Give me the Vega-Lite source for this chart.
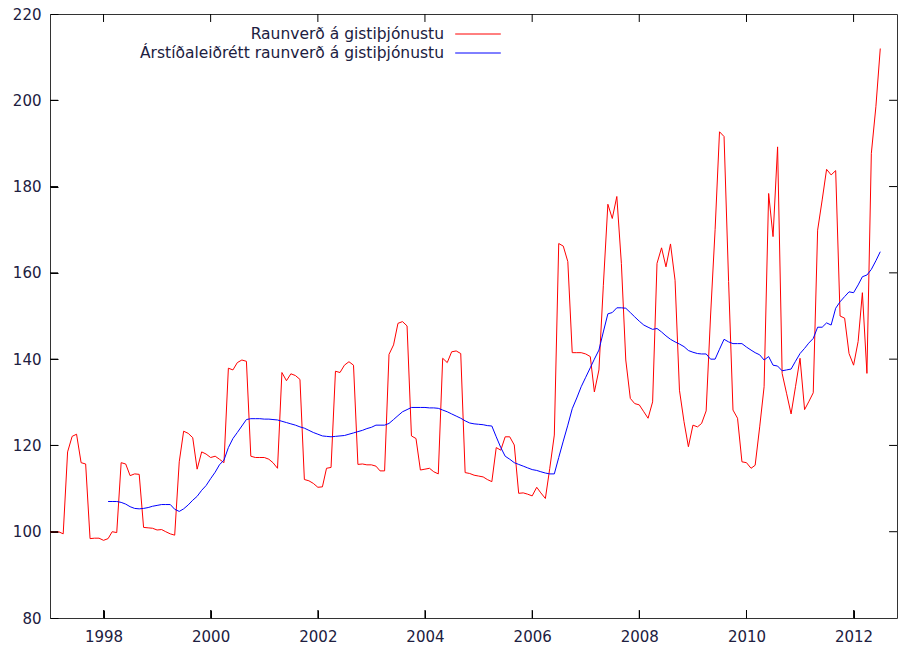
{
  "$schema": "https://vega.github.io/schema/vega-lite/v6.json",
  "width": 847,
  "height": 604,
  "autosize": {"type": "none"},
  "padding": {"left": 50, "top": 14, "right": 1, "bottom": 33},
  "background": "white",
  "config": {
    "view": {"stroke": "#333333", "strokeWidth": 1},
    "font": "DejaVu Sans",
    "axis": {
      "labelFont": "DejaVu Sans",
      "labelFontSize": 15,
      "labelColor": "#202040",
      "ticks": true,
      "tickColor": "#000000",
      "tickSize": -8,
      "tickWidth": 1,
      "domain": false,
      "grid": false,
      "title": null
    },
    "legend": {
      "labelFont": "DejaVu Sans",
      "labelFontSize": 15.5,
      "labelColor": "#202040"
    }
  },
  "datasets": {
    "r": [
      {"d":"1997-01-01","v":100.0},{"d":"1997-02-01","v":100.0},{"d":"1997-03-01","v":100.0},{"d":"1997-04-01","v":99.5},{"d":"1997-05-01","v":118.5},{"d":"1997-06-01","v":122.1},{"d":"1997-07-01","v":122.6},{"d":"1997-08-01","v":116.0},{"d":"1997-09-01","v":115.7},{"d":"1997-10-01","v":98.4},{"d":"1997-11-01","v":98.5},{"d":"1997-12-01","v":98.5},
      {"d":"1998-01-01","v":98.0},{"d":"1998-02-01","v":98.4},{"d":"1998-03-01","v":100.0},{"d":"1998-04-01","v":99.8},{"d":"1998-05-01","v":116.0},{"d":"1998-06-01","v":115.7},{"d":"1998-07-01","v":113.0},{"d":"1998-08-01","v":113.4},{"d":"1998-09-01","v":113.3},{"d":"1998-10-01","v":101.0},{"d":"1998-11-01","v":100.9},{"d":"1998-12-01","v":100.8},
      {"d":"1999-01-01","v":100.4},{"d":"1999-02-01","v":100.5},{"d":"1999-03-01","v":100.0},{"d":"1999-04-01","v":99.5},{"d":"1999-05-01","v":99.2},{"d":"1999-06-01","v":116.2},{"d":"1999-07-01","v":123.3},{"d":"1999-08-01","v":122.8},{"d":"1999-09-01","v":121.8},{"d":"1999-10-01","v":114.5},{"d":"1999-11-01","v":118.5},{"d":"1999-12-01","v":118.0},
      {"d":"2000-01-01","v":117.2},{"d":"2000-02-01","v":117.5},{"d":"2000-03-01","v":116.8},{"d":"2000-04-01","v":116.0},{"d":"2000-05-01","v":137.9},{"d":"2000-06-01","v":137.5},{"d":"2000-07-01","v":139.2},{"d":"2000-08-01","v":139.8},{"d":"2000-09-01","v":139.5},{"d":"2000-10-01","v":117.5},{"d":"2000-11-01","v":117.2},{"d":"2000-12-01","v":117.2},
      {"d":"2001-01-01","v":117.2},{"d":"2001-02-01","v":116.8},{"d":"2001-03-01","v":116.0},{"d":"2001-04-01","v":114.7},{"d":"2001-05-01","v":136.9},{"d":"2001-06-01","v":135.0},{"d":"2001-07-01","v":136.6},{"d":"2001-08-01","v":136.2},{"d":"2001-09-01","v":135.3},{"d":"2001-10-01","v":112.1},{"d":"2001-11-01","v":111.8},{"d":"2001-12-01","v":111.2},
      {"d":"2002-01-01","v":110.3},{"d":"2002-02-01","v":110.4},{"d":"2002-03-01","v":114.7},{"d":"2002-04-01","v":114.9},{"d":"2002-05-01","v":137.2},{"d":"2002-06-01","v":136.9},{"d":"2002-07-01","v":138.6},{"d":"2002-08-01","v":139.4},{"d":"2002-09-01","v":138.6},{"d":"2002-10-01","v":115.6},{"d":"2002-11-01","v":115.7},{"d":"2002-12-01","v":115.5},
      {"d":"2003-01-01","v":115.5},{"d":"2003-02-01","v":115.2},{"d":"2003-03-01","v":114.1},{"d":"2003-04-01","v":114.1},{"d":"2003-05-01","v":141.1},{"d":"2003-06-01","v":143.3},{"d":"2003-07-01","v":148.3},{"d":"2003-08-01","v":148.7},{"d":"2003-09-01","v":147.7},{"d":"2003-10-01","v":122.2},{"d":"2003-11-01","v":121.6},{"d":"2003-12-01","v":114.3},
      {"d":"2004-01-01","v":114.5},{"d":"2004-02-01","v":114.7},{"d":"2004-03-01","v":113.9},{"d":"2004-04-01","v":113.4},{"d":"2004-05-01","v":140.2},{"d":"2004-06-01","v":139.2},{"d":"2004-07-01","v":141.7},{"d":"2004-08-01","v":141.9},{"d":"2004-09-01","v":141.3},{"d":"2004-10-01","v":113.7},{"d":"2004-11-01","v":113.5},{"d":"2004-12-01","v":113.1},
      {"d":"2005-01-01","v":112.9},{"d":"2005-02-01","v":112.7},{"d":"2005-03-01","v":112.1},{"d":"2005-04-01","v":111.6},{"d":"2005-05-01","v":119.5},{"d":"2005-06-01","v":118.9},{"d":"2005-07-01","v":122.0},{"d":"2005-08-01","v":122.0},{"d":"2005-09-01","v":120.1},{"d":"2005-10-01","v":108.9},{"d":"2005-11-01","v":109.0},{"d":"2005-12-01","v":108.7},
      {"d":"2006-01-01","v":108.3},{"d":"2006-02-01","v":110.3},{"d":"2006-03-01","v":109.0},{"d":"2006-04-01","v":107.7},{"d":"2006-05-01","v":114.7},{"d":"2006-06-01","v":122.4},{"d":"2006-07-01","v":166.8},{"d":"2006-08-01","v":166.2},{"d":"2006-09-01","v":162.6},{"d":"2006-10-01","v":141.5},{"d":"2006-11-01","v":141.5},{"d":"2006-12-01","v":141.5},
      {"d":"2007-01-01","v":141.2},{"d":"2007-02-01","v":140.6},{"d":"2007-03-01","v":132.4},{"d":"2007-04-01","v":137.5},{"d":"2007-05-01","v":157.0},{"d":"2007-06-01","v":175.9},{"d":"2007-07-01","v":172.6},{"d":"2007-08-01","v":177.7},{"d":"2007-09-01","v":162.2},{"d":"2007-10-01","v":139.8},{"d":"2007-11-01","v":130.9},{"d":"2007-12-01","v":129.7},
      {"d":"2008-01-01","v":129.4},{"d":"2008-02-01","v":127.8},{"d":"2008-03-01","v":126.3},{"d":"2008-04-01","v":130.1},{"d":"2008-05-01","v":162.2},{"d":"2008-06-01","v":165.8},{"d":"2008-07-01","v":161.4},{"d":"2008-08-01","v":166.7},{"d":"2008-09-01","v":158.3},{"d":"2008-10-01","v":132.8},{"d":"2008-11-01","v":125.5},{"d":"2008-12-01","v":119.7},
      {"d":"2009-01-01","v":124.7},{"d":"2009-02-01","v":124.3},{"d":"2009-03-01","v":125.1},{"d":"2009-04-01","v":128.0},{"d":"2009-05-01","v":150.0},{"d":"2009-06-01","v":170.0},{"d":"2009-07-01","v":192.7},{"d":"2009-08-01","v":191.6},{"d":"2009-09-01","v":158.0},{"d":"2009-10-01","v":128.2},{"d":"2009-11-01","v":126.3},{"d":"2009-12-01","v":116.2},
      {"d":"2010-01-01","v":116.0},{"d":"2010-02-01","v":114.7},{"d":"2010-03-01","v":115.4},{"d":"2010-04-01","v":124.3},{"d":"2010-05-01","v":133.6},{"d":"2010-06-01","v":178.4},{"d":"2010-07-01","v":168.4},{"d":"2010-08-01","v":189.2},{"d":"2010-09-01","v":136.7},{"d":"2010-10-01","v":132.1},{"d":"2010-11-01","v":127.3},{"d":"2010-12-01","v":133.6},
      {"d":"2011-01-01","v":140.2},{"d":"2011-02-01","v":128.3},{"d":"2011-03-01","v":130.1},{"d":"2011-04-01","v":132.2},{"d":"2011-05-01","v":169.9},{"d":"2011-06-01","v":176.9},{"d":"2011-07-01","v":184.0},{"d":"2011-08-01","v":182.7},{"d":"2011-09-01","v":183.7},{"d":"2011-10-01","v":150.0},{"d":"2011-11-01","v":149.5},{"d":"2011-12-01","v":141.3},
      {"d":"2012-01-01","v":138.6},{"d":"2012-02-01","v":144.1},{"d":"2012-03-01","v":155.4},{"d":"2012-04-01","v":136.7},{"d":"2012-05-01","v":187.7},{"d":"2012-06-01","v":198.5},{"d":"2012-07-01","v":212.0}
    ],
    "b": [
      {"d":"1998-02-01","v":107.0},{"d":"1998-03-01","v":107.0},{"d":"1998-04-01","v":107.0},{"d":"1998-05-01","v":106.8},{"d":"1998-06-01","v":106.4},{"d":"1998-07-01","v":105.8},{"d":"1998-08-01","v":105.4},{"d":"1998-09-01","v":105.3},{"d":"1998-10-01","v":105.4},{"d":"1998-11-01","v":105.6},{"d":"1998-12-01","v":105.9},
      {"d":"1999-01-01","v":106.1},{"d":"1999-02-01","v":106.3},{"d":"1999-03-01","v":106.3},{"d":"1999-04-01","v":106.3},{"d":"1999-05-01","v":105.2},{"d":"1999-06-01","v":104.7},{"d":"1999-07-01","v":105.3},{"d":"1999-08-01","v":106.2},{"d":"1999-09-01","v":107.3},{"d":"1999-10-01","v":108.2},{"d":"1999-11-01","v":109.6},{"d":"1999-12-01","v":110.7},
      {"d":"2000-01-01","v":112.3},{"d":"2000-02-01","v":113.8},{"d":"2000-03-01","v":115.5},{"d":"2000-04-01","v":116.6},{"d":"2000-05-01","v":119.5},{"d":"2000-06-01","v":121.6},{"d":"2000-07-01","v":123.0},{"d":"2000-08-01","v":124.5},{"d":"2000-09-01","v":126.0},{"d":"2000-10-01","v":126.2},{"d":"2000-11-01","v":126.2},{"d":"2000-12-01","v":126.2},
      {"d":"2001-01-01","v":126.1},{"d":"2001-02-01","v":126.1},{"d":"2001-03-01","v":126.0},{"d":"2001-04-01","v":125.9},{"d":"2001-05-01","v":125.6},{"d":"2001-06-01","v":125.3},{"d":"2001-07-01","v":125.0},{"d":"2001-08-01","v":124.7},{"d":"2001-09-01","v":124.3},{"d":"2001-10-01","v":124.0},{"d":"2001-11-01","v":123.5},{"d":"2001-12-01","v":123.0},
      {"d":"2002-01-01","v":122.6},{"d":"2002-02-01","v":122.2},{"d":"2002-03-01","v":122.1},{"d":"2002-04-01","v":122.0},{"d":"2002-05-01","v":122.1},{"d":"2002-06-01","v":122.2},{"d":"2002-07-01","v":122.3},{"d":"2002-08-01","v":122.6},{"d":"2002-09-01","v":122.9},{"d":"2002-10-01","v":123.2},{"d":"2002-11-01","v":123.5},{"d":"2002-12-01","v":123.9},
      {"d":"2003-01-01","v":124.2},{"d":"2003-02-01","v":124.7},{"d":"2003-03-01","v":124.7},{"d":"2003-04-01","v":124.7},{"d":"2003-05-01","v":125.1},{"d":"2003-06-01","v":126.0},{"d":"2003-07-01","v":126.9},{"d":"2003-08-01","v":127.8},{"d":"2003-09-01","v":128.3},{"d":"2003-10-01","v":128.8},{"d":"2003-11-01","v":128.8},{"d":"2003-12-01","v":128.8},
      {"d":"2004-01-01","v":128.8},{"d":"2004-02-01","v":128.7},{"d":"2004-03-01","v":128.7},{"d":"2004-04-01","v":128.6},{"d":"2004-05-01","v":128.2},{"d":"2004-06-01","v":127.8},{"d":"2004-07-01","v":127.3},{"d":"2004-08-01","v":126.8},{"d":"2004-09-01","v":126.3},{"d":"2004-10-01","v":125.7},{"d":"2004-11-01","v":125.2},{"d":"2004-12-01","v":125.0},
      {"d":"2005-01-01","v":124.9},{"d":"2005-02-01","v":124.8},{"d":"2005-03-01","v":124.6},{"d":"2005-04-01","v":124.5},{"d":"2005-05-01","v":122.0},{"d":"2005-06-01","v":119.5},{"d":"2005-07-01","v":117.5},{"d":"2005-08-01","v":116.8},{"d":"2005-09-01","v":116.0},{"d":"2005-10-01","v":115.6},{"d":"2005-11-01","v":115.2},{"d":"2005-12-01","v":114.8},
      {"d":"2006-01-01","v":114.4},{"d":"2006-02-01","v":114.2},{"d":"2006-03-01","v":113.9},{"d":"2006-04-01","v":113.6},{"d":"2006-05-01","v":113.4},{"d":"2006-06-01","v":113.4},{"d":"2006-07-01","v":117.2},{"d":"2006-08-01","v":121.0},{"d":"2006-09-01","v":124.7},{"d":"2006-10-01","v":128.5},{"d":"2006-11-01","v":131.0},{"d":"2006-12-01","v":133.6},
      {"d":"2007-01-01","v":135.8},{"d":"2007-02-01","v":138.0},{"d":"2007-03-01","v":140.0},{"d":"2007-04-01","v":142.1},{"d":"2007-05-01","v":146.3},{"d":"2007-06-01","v":150.5},{"d":"2007-07-01","v":150.8},{"d":"2007-08-01","v":151.9},{"d":"2007-09-01","v":151.9},{"d":"2007-10-01","v":151.8},{"d":"2007-11-01","v":150.8},{"d":"2007-12-01","v":149.8},
      {"d":"2008-01-01","v":148.8},{"d":"2008-02-01","v":147.9},{"d":"2008-03-01","v":147.4},{"d":"2008-04-01","v":146.9},{"d":"2008-05-01","v":147.1},{"d":"2008-06-01","v":146.3},{"d":"2008-07-01","v":145.4},{"d":"2008-08-01","v":144.6},{"d":"2008-09-01","v":144.0},{"d":"2008-10-01","v":143.5},{"d":"2008-11-01","v":142.9},{"d":"2008-12-01","v":142.0},
      {"d":"2009-01-01","v":141.6},{"d":"2009-02-01","v":141.3},{"d":"2009-03-01","v":141.2},{"d":"2009-04-01","v":141.2},{"d":"2009-05-01","v":140.0},{"d":"2009-06-01","v":140.0},{"d":"2009-07-01","v":142.3},{"d":"2009-08-01","v":144.6},{"d":"2009-09-01","v":144.0},{"d":"2009-10-01","v":143.6},{"d":"2009-11-01","v":143.6},{"d":"2009-12-01","v":143.6},
      {"d":"2010-01-01","v":142.8},{"d":"2010-02-01","v":142.1},{"d":"2010-03-01","v":141.5},{"d":"2010-04-01","v":141.0},{"d":"2010-05-01","v":139.8},{"d":"2010-06-01","v":140.6},{"d":"2010-07-01","v":138.6},{"d":"2010-08-01","v":138.4},{"d":"2010-09-01","v":137.3},{"d":"2010-10-01","v":137.5},{"d":"2010-11-01","v":137.7},{"d":"2010-12-01","v":139.5},
      {"d":"2011-01-01","v":141.3},{"d":"2011-02-01","v":142.5},{"d":"2011-03-01","v":143.7},{"d":"2011-04-01","v":144.8},{"d":"2011-05-01","v":147.4},{"d":"2011-06-01","v":147.4},{"d":"2011-07-01","v":148.4},{"d":"2011-08-01","v":147.9},{"d":"2011-09-01","v":151.8},{"d":"2011-10-01","v":153.3},{"d":"2011-11-01","v":154.5},{"d":"2011-12-01","v":155.6},
      {"d":"2012-01-01","v":155.4},{"d":"2012-02-01","v":157.2},{"d":"2012-03-01","v":159.1},{"d":"2012-04-01","v":159.5},{"d":"2012-05-01","v":160.8},{"d":"2012-06-01","v":162.8},{"d":"2012-07-01","v":164.9}
    ],
    "xt": [{"d":"1998-01-01"},{"d":"2000-01-01"},{"d":"2002-01-01"},{"d":"2004-01-01"},{"d":"2006-01-01"},{"d":"2008-01-01"},{"d":"2010-01-01"},{"d":"2012-01-01"}],
    "yt": [{"v":100},{"v":120},{"v":140},{"v":160},{"v":180},{"v":200}]
  },
  "layer": [
    {
      "data": {"name": "r"},
      "mark": {"type": "line", "strokeWidth": 1},
      "encoding": {
        "x": {
          "field": "d", "type": "temporal",
          "scale": {"type": "utc", "domain": ["1997-01-01", "2012-10-23"]},
          "axis": {"orient": "bottom", "format": "%Y", "values": [{"year": 1998, "utc": true}, {"year": 2000, "utc": true}, {"year": 2002, "utc": true}, {"year": 2004, "utc": true}, {"year": 2006, "utc": true}, {"year": 2008, "utc": true}, {"year": 2010, "utc": true}, {"year": 2012, "utc": true}], "labelPadding": 19, "labelFlush": false}
        },
        "y": {
          "field": "v", "type": "quantitative",
          "scale": {"domain": [80, 220], "nice": false, "zero": false},
          "axis": {"orient": "left", "values": [80, 100, 120, 140, 160, 180, 200, 220], "labelPadding": 17}
        },
        "color": {
          "datum": "Raunverð á gistiþjónustu", "type": "nominal",
          "scale": {"domain": ["Raunverð á gistiþjónustu", "Árstíðaleiðrétt raunverð á gistiþjónustu"], "range": ["#ff0000", "#0000ff"]},
          "legend": {"orient": "none", "legendX": 418, "legendY": 10, "title": null, "padding": 0, "symbolType": "M-2.4,0H2.4", "symbolSize": 361, "symbolStrokeWidth": 1, "labelAlign": "right", "labelOffset": -44, "labelLimit": 600, "rowPadding": 0}
        }
      }
    },
    {
      "data": {"name": "b"},
      "mark": {"type": "line", "strokeWidth": 1},
      "encoding": {
        "x": {"field": "d", "type": "temporal"},
        "y": {"field": "v", "type": "quantitative"},
        "color": {"datum": "Árstíðaleiðrétt raunverð á gistiþjónustu", "type": "nominal"}
      }
    },
    {
      "data": {"name": "xt"},
      "mark": {"type": "rule", "color": "#000000", "strokeWidth": 1},
      "encoding": {
        "x": {"field": "d", "type": "temporal"},
        "y": {"datum": 80},
        "y2": {"datum": 81.85}
      }
    },
    {
      "data": {"name": "xt"},
      "mark": {"type": "rule", "color": "#000000", "strokeWidth": 1},
      "encoding": {
        "x": {"field": "d", "type": "temporal"},
        "y": {"datum": 220},
        "y2": {"datum": 218.15}
      }
    },
    {
      "data": {"name": "yt"},
      "mark": {"type": "rule", "color": "#000000", "strokeWidth": 1},
      "encoding": {
        "y": {"field": "v", "type": "quantitative"},
        "x": {"datum": {"year": 1997, "month": 1, "date": 1, "utc": true}, "type": "temporal"},
        "x2": {"datum": {"year": 1997, "month": 2, "date": 25, "utc": true}}
      }
    },
    {
      "data": {"name": "yt"},
      "mark": {"type": "rule", "color": "#000000", "strokeWidth": 1},
      "encoding": {
        "y": {"field": "v", "type": "quantitative"},
        "x": {"datum": {"year": 2012, "month": 10, "date": 23, "utc": true}, "type": "temporal"},
        "x2": {"datum": {"year": 2012, "month": 8, "date": 30, "utc": true}}
      }
    }
  ]
}
